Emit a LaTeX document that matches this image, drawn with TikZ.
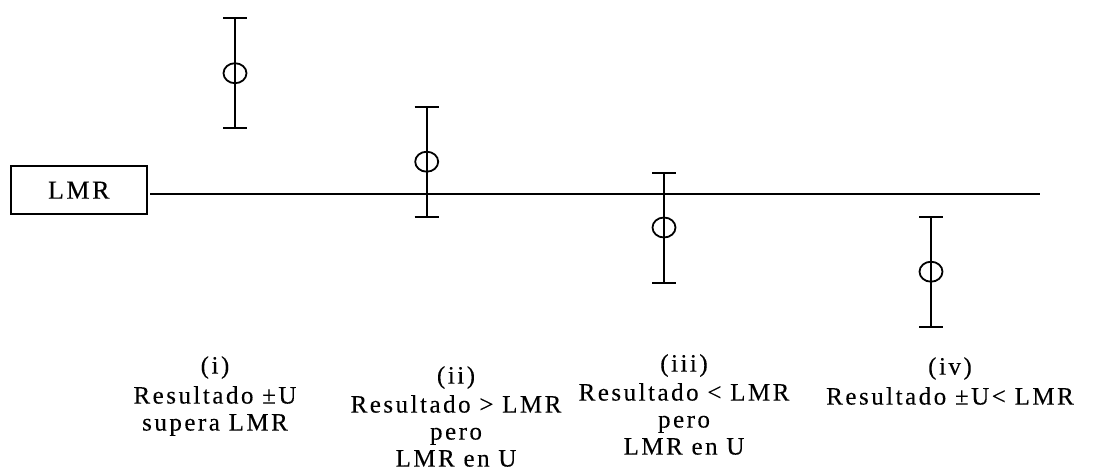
\documentclass[tikz,border=0pt]{standalone}
\usepackage{fontspec}
\setmainfont{Liberation Serif}[LetterSpace=10, FakeBold=0.15]
\usetikzlibrary{shapes.geometric}
\tikzset{
  lbl/.style={font=\fontsize{25}{27}\selectfont, align=center, inner sep=0pt, anchor=north},
  bar/.style={line width=1.8pt},
  val/.style={draw, ellipse, line width=1.8pt, minimum width=23pt, minimum height=20pt, inner sep=0pt},
  limbox/.style={draw, line width=1.8pt, minimum width=136pt, minimum height=48pt, inner sep=0pt, font=\fontsize{26}{27}\selectfont}
}
\begin{document}
\begin{tikzpicture}[x=1pt,y=-1pt]
\useasboundingbox (0,0) rectangle (1112,475);
% limit box and line
\node[limbox] (lmr) at (78.8,190.2) {LMR};
\coordinate (lstart) at (150,194);
\coordinate (lend) at (1040,194);
\draw[line width=1.5pt] (lstart) -- (lend);
% error bars
\foreach \n/\x/\t/\c/\b in {a/235/18.3/73.2/128.3, b/426.7/106.7/161.7/216.7, c/664/172.7/227.5/282.7, d/931/216.7/271.7/326.7}{
  \coordinate (\n top) at (\x,\t);
  \coordinate (\n bot) at (\x,\b);
  \draw[bar] (\n top) -- (\n bot);
  \draw[bar] ([xshift=-12pt]\n top) -- ([xshift=12pt]\n top);
  \draw[bar] ([xshift=-12pt]\n bot) -- ([xshift=12pt]\n bot);
  \node[val] (\n val) at (\x,\c) {};
}
% labels
\node[lbl] (li) at (215,356) {(i)\\[3pt]Resultado ±U\\supera LMR};
\node[lbl] (lii) at (456,366) {(ii)\\[2pt]Resultado > LMR\\pero\\LMR en U};
\node[lbl] (liii) at (684,354) {(iii)\\[2pt]Resultado < LMR\\pero\\LMR en U};
\node[lbl] (liv) at (950,357) {(iv)\\[3pt]Resultado ±U< LMR};
\end{tikzpicture}
\end{document}
